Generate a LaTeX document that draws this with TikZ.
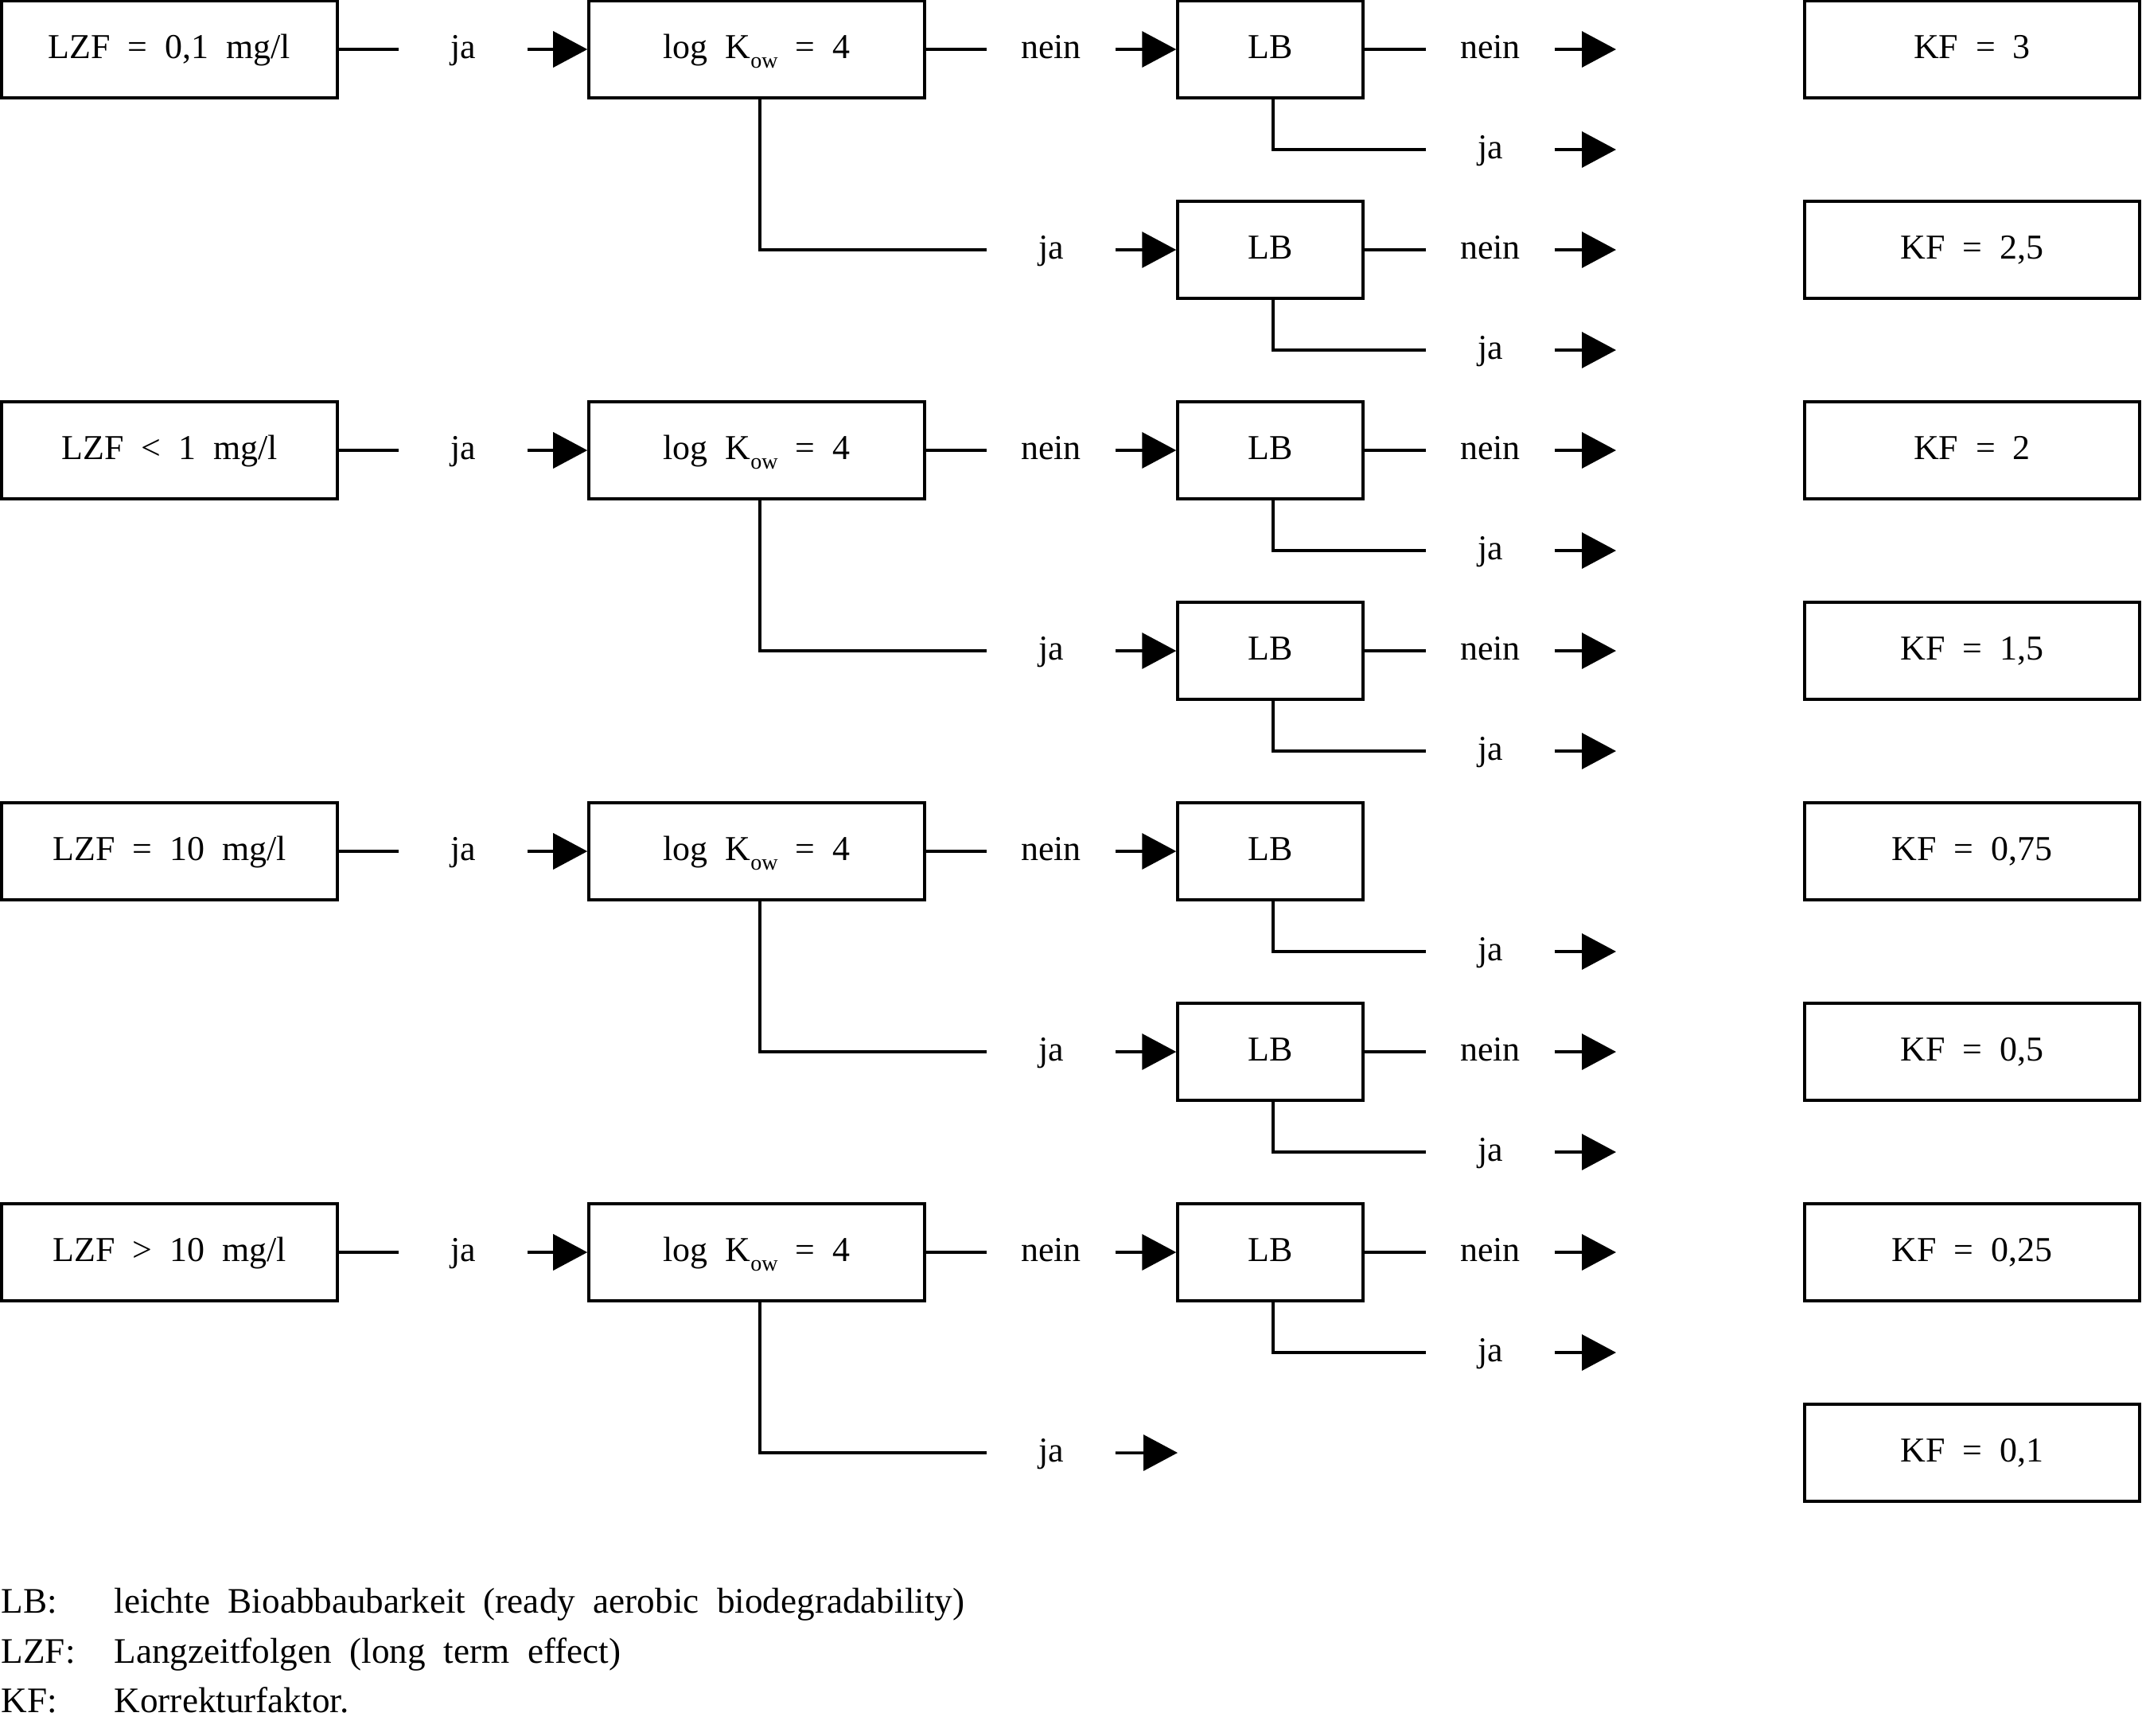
\documentclass[tikz,border=0pt]{standalone}
\usepackage{fontspec}
\setmainfont{Liberation Serif}[WordSpace=2]
\usetikzlibrary{arrows.meta}
\newcommand{\kow}{K\raisebox{-0.6ex}{\fontsize{8}{8}\selectfont ow}}

\begin{document}
\begin{tikzpicture}[line width=1pt,
  every node/.style={font=\fontsize{12.5}{15}\selectfont, inner sep=0pt, text height=0.66em, text depth=0pt},
  box/.style={draw, minimum height=1.22cm, minimum width=4.22cm},
  lbbox/.style={box, minimum width=2.33cm},
  lab/.style={minimum width=1.58cm},
  arr/.style={-{Triangle[length=4.3mm,width=4.5mm]}},
  leg/.style={anchor=base west, font=\fontsize{12.85}{15}\selectfont}]
  \useasboundingbox (0,0) rectangle (26.92,-21.81);
  % the four LZF groups
  \foreach \g/\txt in {0/{LZF = 0,1 mg/l},1/{LZF < 1 mg/l},2/{LZF = 10 mg/l},3/{LZF > 10 mg/l}}{
    \pgfmathsetmacro{\y}{-0.62-5.04*\g}
    \node[box] (lzf\g) at (2.13,\y) {\txt};
    \node[lab] (ja\g) at (5.82,\y) {ja};
    \node[box] (log\g) at (9.51,\y) {log \kow{} = 4};
    \node[lab] (nein\g) at (13.21,\y) {nein};
    \node[lbbox] (lb\g) at (15.965,\y) {LB};
    \node[lab] (lbja\g) at (18.73,\y-1.26) {ja};
    \coordinate (lbjaend\g) at (20.31,\y-1.26);
    \node[lab] (logja\g) at (13.21,\y-2.52) {ja};
    \draw (lzf\g) -- (ja\g.west);
    \draw[arr] (ja\g.east) -- (log\g);
    \draw (log\g) -- (nein\g.west);
    \draw[arr] (nein\g.east) -- (lb\g);
    \draw ([xshift=0.4mm]log\g.south) |- (logja\g.west);
    \draw ([xshift=0.35mm]lb\g.south) |- (lbja\g.west);
    \draw[arr] (lbja\g.east) -- (lbjaend\g);
  }
  % nein after the upper LB
  \foreach \g in {0,1,3}{
    \pgfmathsetmacro{\y}{-0.62-5.04*\g}
    \node[lab] (lbnein\g) at (18.73,\y) {nein};
    \coordinate (lbneinend\g) at (20.31,\y);
    \draw (lb\g) -- (lbnein\g.west);
    \draw[arr] (lbnein\g.east) -- (lbneinend\g);
  }
  % lower LB boxes
  \foreach \g in {0,1,2}{
    \pgfmathsetmacro{\y}{-3.14-5.04*\g}
    \node[lbbox] (lbB\g) at (15.965,\y) {LB};
    \node[lab] (lbBnein\g) at (18.73,\y) {nein};
    \node[lab] (lbBja\g) at (18.73,\y-1.26) {ja};
    \coordinate (lbBneinend\g) at (20.31,\y);
    \coordinate (lbBjaend\g) at (20.31,\y-1.26);
    \draw[arr] (logja\g.east) -- (lbB\g);
    \draw (lbB\g) -- (lbBnein\g.west);
    \draw[arr] (lbBnein\g.east) -- (lbBneinend\g);
    \draw ([xshift=0.35mm]lbB\g.south) |- (lbBja\g.west);
    \draw[arr] (lbBja\g.east) -- (lbBjaend\g);
  }
  \coordinate (logjaend3) at (14.80,-18.26);
  \draw[arr] (logja3.east) -- (logjaend3);
  % correction factors
  \foreach \k/\kf in {0/3,1/{2,5},2/2,3/{1,5},4/{0,75},5/{0,5},6/{0,25},7/{0,1}}
    \node[box, minimum width=4.21cm] (kf\k) at (24.785,-0.62-2.52*\k) {KF = \kf};
  % legend
  \node[leg] (legLB) at (0,-20.27) {LB:};
  \node[leg] (legLBtxt) at (1.42,-20.27) {leichte Bioabbaubarkeit (ready aerobic biodegradability)};
  \node[leg] (legLZF) at (0,-20.90) {LZF:};
  \node[leg] (legLZFtxt) at (1.42,-20.90) {Langzeitfolgen (long term effect)};
  \node[leg] (legKF) at (0,-21.52) {KF:};
  \node[leg] (legKFtxt) at (1.42,-21.52) {Korrekturfaktor.};
\end{tikzpicture}
\end{document}
